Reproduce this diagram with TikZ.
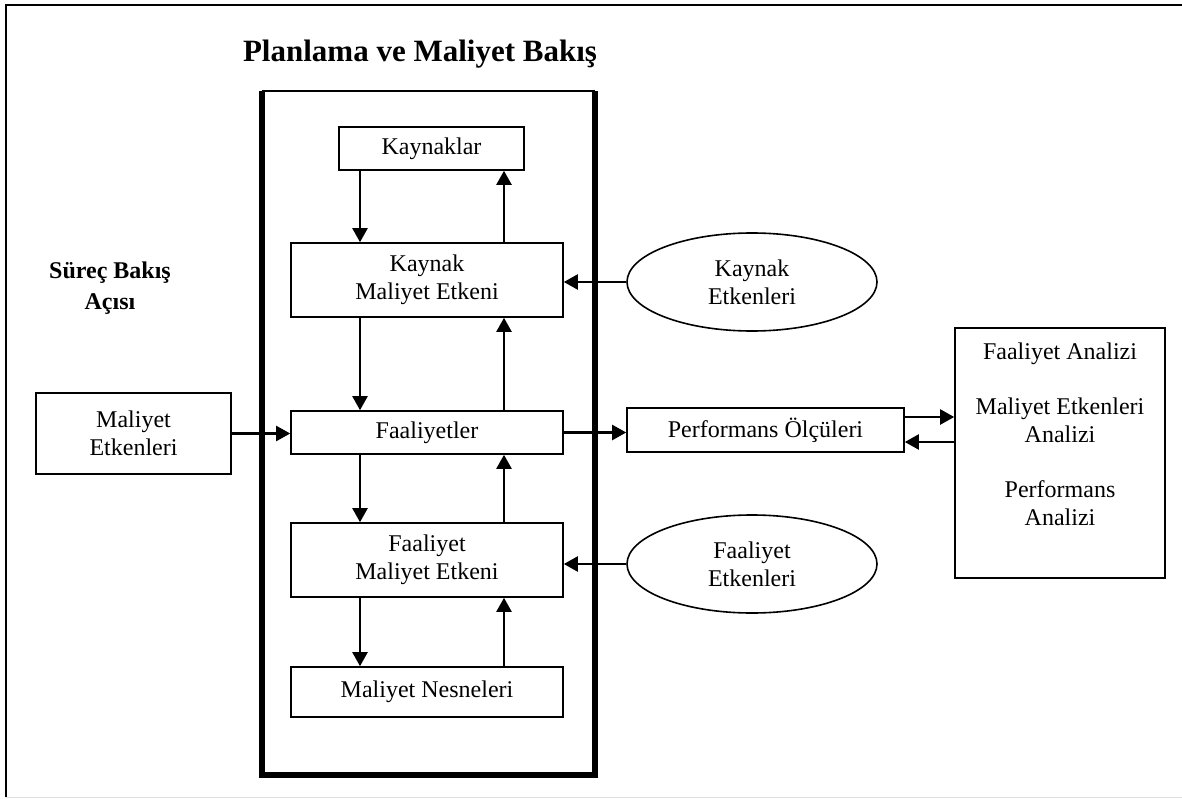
\documentclass[tikz,border=0pt]{standalone}
\usepackage{fontspec}
\setmainfont{Liberation Serif}
\usetikzlibrary{arrows.meta,positioning,calc,shapes.geometric}

\begin{document}
\begin{tikzpicture}[x=1pt, y=-1pt,
    % --- styles ---
    body text/.style={font=\fontsize{24}{28}\selectfont, align=center, inner sep=0pt},
    head text/.style={font=\fontsize{24}{31}\selectfont\bfseries, align=center, inner sep=0pt},
    box/.style={body text, draw, line width=1.6pt, rectangle, minimum width=272pt, minimum height=43pt},
    tall box/.style={box, minimum height=74pt},
    factor oval/.style={body text, draw, line width=1.6pt, ellipse, minimum width=250pt, minimum height=98pt},
    % arrows between boxes
    flow/.style={line width=2.2pt, -{Triangle[length=14pt, width=15pt]}}
]
    \useasboundingbox (0,0) rectangle (1182,799);

    % --- 1. outer frame ---
    \draw[line width=2.5pt] (1190,5) -- (6,5) -- (6,797);
    \draw[black!12, line width=1.5pt] (6,797.5) -- (1190,797.5);

    % --- 2. planning and cost view (thick frame) ---
    \node[minimum width=333pt, minimum height=684pt, inner sep=0pt] (planbox) at (428.5,433) {};
    \draw[line width=6pt, line join=miter] (planbox.north west) -- (planbox.south west)
        -- (planbox.south east) -- (planbox.north east);
    \draw[line width=2.5pt] (planbox.north west) -- (planbox.north east);
    \node[font=\fontsize{31}{36}\selectfont\bfseries, anchor=base] (title) at (420,62) {Planlama ve Maliyet Bakış};

    \node[box, minimum width=185pt] (kaynaklar) at (431.5,148.5) {Kaynaklar};
    \node[tall box] (kme) at (427,280) {Kaynak\\Maliyet Etkeni};
    \node[box] (faal) at (427,432.5) {Faaliyetler};
    \node[tall box] (fme) at (427,560) {Faaliyet\\Maliyet Etkeni};
    \node[box, minimum height=50pt] (nesne) at (427,692) {Maliyet Nesneleri};

    % --- 3. process view ---
    \node[head text] (surec) at (110,288) {Süreç Bakış\\Açısı};
    \node[box, minimum width=195pt, minimum height=81pt] (maletk) at (133.5,433.5) {Maliyet\\Etkenleri};

    % --- 4. drivers and analysis ---
    \node[factor oval] (kayetk) at (752,282) {Kaynak\\Etkenleri};
    \node[factor oval] (fayetk) at (752,564) {Faaliyet\\Etkenleri};
    \node[box, minimum width=277pt, minimum height=44pt] (perf) at (765.5,430) {Performans Ölçüleri};
    \node[draw, line width=1.6pt, minimum width=210pt, minimum height=250pt] (analiz) at (1060,453) {};
    \node[body text, anchor=north] (analiz text) at ($(analiz.north)+(0,15)$)
        {Faaliyet Analizi\\[27pt] Maliyet Etkenleri\\Analizi\\[27pt] Performans\\Analizi};

    % --- 5. connectors ---
    % x positions of the down / up arrows
    \coordinate (down_x) at (360,0);
    \coordinate (up_x) at (504,0);

    \draw[flow] (kaynaklar.south -| down_x) -- (kme.north -| down_x);
    \draw[flow] (kme.north -| up_x) -- (kaynaklar.south -| up_x);
    \draw[flow] (kme.south -| down_x) -- (faal.north -| down_x);
    \draw[flow] (faal.north -| up_x) -- (kme.south -| up_x);
    \draw[flow] (faal.south -| down_x) -- (fme.north -| down_x);
    \draw[flow] (fme.north -| up_x) -- (faal.south -| up_x);
    \draw[flow] (fme.south -| down_x) -- (nesne.north -| down_x);
    \draw[flow] (nesne.north -| up_x) -- (fme.south -| up_x);

    \draw[flow] (kayetk.west) -- (kayetk.west -| kme.east);
    \draw[flow] (fayetk.west) -- (fayetk.west -| fme.east);
    \draw[flow] (maletk.east) -- (maletk.east -| faal.west);
    \draw[flow] (faal.east) -- (faal.east -| perf.west);

    \draw[flow] ($(perf.east)+(0,-13)$) -- ($(perf.east -| analiz.west)+(0,-13)$);
    \draw[flow] ($(analiz.west |- perf.east)+(0,12)$) -- ($(perf.east)+(0,12)$);

\end{tikzpicture}
\end{document}
